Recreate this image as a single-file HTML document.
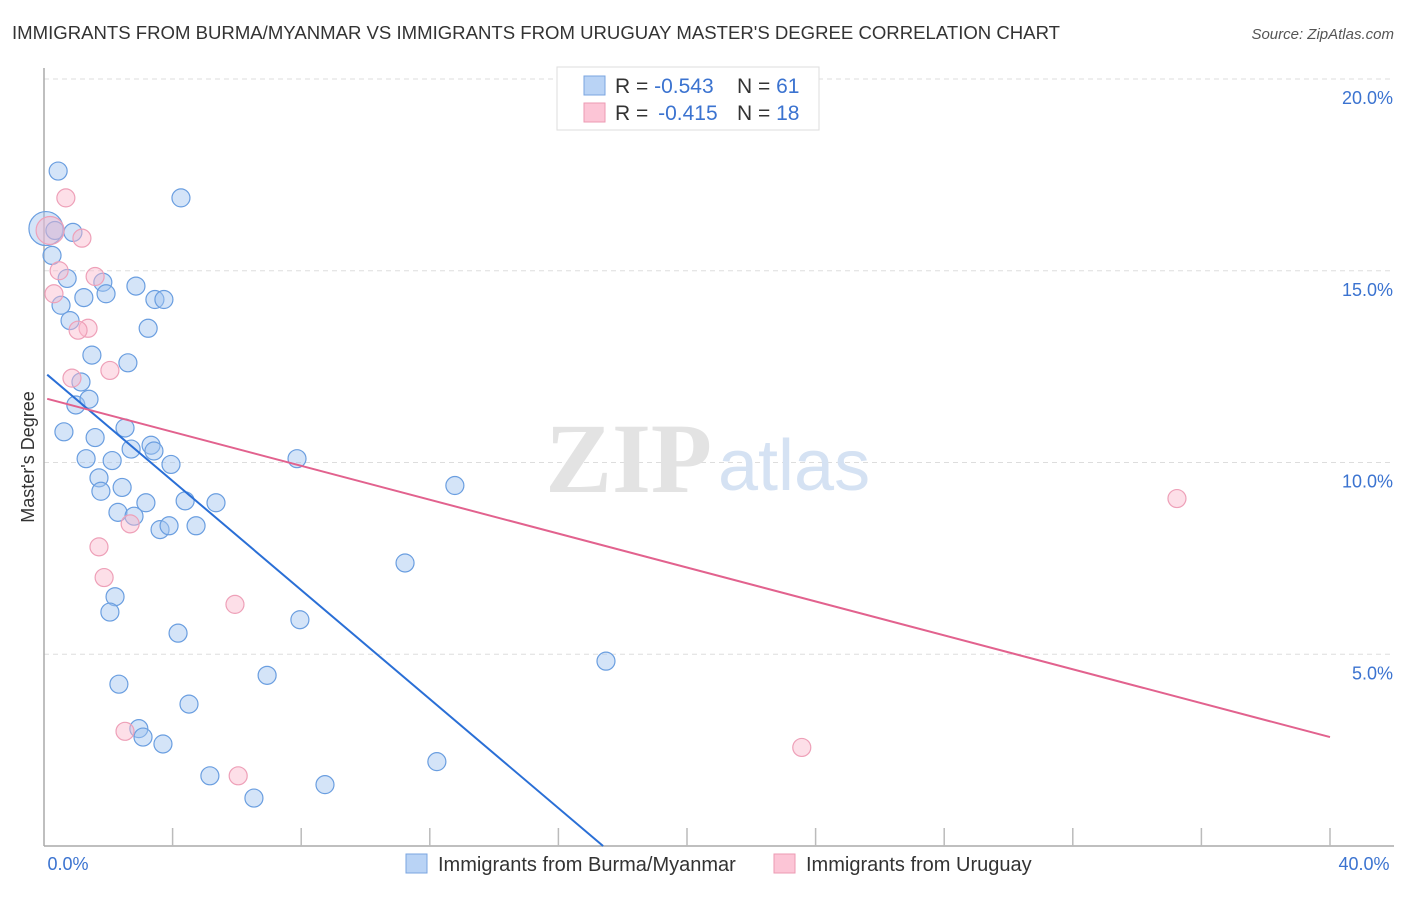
<!DOCTYPE html>
<html><head><meta charset="utf-8"><style>
body{margin:0;background:#fff;font-family:"Liberation Sans",sans-serif}
svg text{font-family:"Liberation Sans",sans-serif}
</style></head><body>
<svg id="chart" width="1406" height="892" xmlns="http://www.w3.org/2000/svg">
<text x="12" y="39" font-size="18.5" fill="#333" textLength="1048" lengthAdjust="spacingAndGlyphs">IMMIGRANTS FROM BURMA/MYANMAR VS IMMIGRANTS FROM URUGUAY MASTER'S DEGREE CORRELATION CHART</text>
<text x="1394" y="39" font-size="15" fill="#555" font-style="italic" text-anchor="end">Source: ZipAtlas.com</text>
<g id="grid"></g>
<text x="712" y="492" font-size="100" fill="#e3e3e3" style="font-family:'Liberation Serif',serif;font-weight:bold" text-anchor="end">ZIP</text>
<text x="718" y="490" font-size="72" fill="#d5e2f3">atlas</text>
<line x1="44" y1="68" x2="44" y2="846" stroke="#aaa" stroke-width="1.5"/>
<line x1="44" y1="846" x2="1394" y2="846" stroke="#aaa" stroke-width="1.5"/>
<g id="xticks"></g>
<g id="ylabels"></g>
<text x="68" y="870" font-size="18" fill="#3b73d0" text-anchor="middle">0.0%</text>
<text x="1364" y="870" font-size="18" fill="#3b73d0" text-anchor="middle">40.0%</text>
<text transform="translate(34,457) rotate(-90)" font-size="18" fill="#333" text-anchor="middle">Master's Degree</text>
<g id="points"></g>
<g id="trends"></g>
<g>
<rect x="557" y="67" width="262" height="63" fill="#fff" stroke="#ddd"/>
<rect x="584" y="76" width="21" height="19" fill="#b9d3f5" stroke="#7aa5e0"/>
<rect x="584" y="103" width="21" height="19" fill="#fcc5d6" stroke="#ec9ab3"/>
<text x="615" y="93" font-size="21" fill="#333">R = <tspan fill="#3b73d0">-0.543</tspan><tspan x="737">N = </tspan><tspan fill="#3b73d0">61</tspan></text>
<text x="615" y="120" font-size="21" fill="#333">R = <tspan fill="#3b73d0" dx="4">-0.415</tspan><tspan x="737">N = </tspan><tspan fill="#3b73d0">18</tspan></text>
</g>
<g>
<rect x="406" y="854" width="21" height="19" fill="#b9d3f5" stroke="#7aa5e0"/>
<text x="438" y="871" font-size="20" fill="#333">Immigrants from Burma/Myanmar</text>
<rect x="774" y="854" width="21" height="19" fill="#fcc5d6" stroke="#ec9ab3"/>
<text x="806" y="871" font-size="20" fill="#333">Immigrants from Uruguay</text>
</g>
</svg>
<script>
const yTicks=[5,10,15,20];
const yTickLabels=["5.0%","10.0%","15.0%","20.0%"];
const xTicks=[4,8,12,16,20,24,28,32,36,40];
const blueX=[0.44,4.26,0.06,0.34,0.9,0.25,0.72,1.83,1.24,0.53,1.93,2.86,3.45,3.73,3.24,0.81,1.49,2.61,1.15,0.99,1.4,0.62,1.59,2.52,1.31,2.12,3.33,2.71,3.42,3.95,7.87,12.78,1.71,1.77,2.43,3.17,4.39,5.35,2.3,2.8,3.61,3.89,4.73,11.23,2.21,2.05,4.17,7.96,17.48,2.33,6.94,4.51,2.95,3.08,3.7,5.16,12.22,6.53,8.74];
const blueY=[17.6,16.9,16.1,16.05,16.0,15.4,14.8,14.7,14.3,14.1,14.4,14.6,14.25,14.25,13.5,13.7,12.8,12.6,12.1,11.5,11.65,10.8,10.65,10.9,10.1,10.05,10.45,10.35,10.3,9.95,10.1,9.4,9.6,9.25,9.35,8.95,9.0,8.95,8.7,8.6,8.25,8.35,8.35,7.38,6.5,6.1,5.55,5.9,4.82,4.22,4.45,3.7,3.06,2.84,2.66,1.83,2.2,1.25,1.6];
const blueR=[9,9,17,9,9,9,9,9,9,9,9,9,9,9,9,9,9,9,9,9,9,9,9,9,9,9,9,9,9,9,9,9,9,9,9,9,9,9,9,9,9,9,9,9,9,9,9,9,9,9,9,9,9,9,9,9,9,9,9];
const pinkX=[0.68,0.19,1.18,0.47,1.59,0.31,1.37,1.06,0.87,2.05,2.68,1.71,1.87,5.94,2.52,6.04,23.57,35.24];
const pinkY=[16.9,16.05,15.85,15.0,14.85,14.4,13.5,13.45,12.2,12.4,8.4,7.8,7.0,6.3,2.99,1.83,2.57,9.06];
const pinkR=[9,14,9,9,9,9,9,9,9,9,9,9,9,9,9,9,9,9];
const blueTrend=[[0.1,12.29],[17.39,0]];
const pinkTrend=[[0.1,11.66],[40,2.84]];
const X=v=>44+v*32.15, Y=v=>846-v*38.35;
const NS="http://www.w3.org/2000/svg";
function mk(t,a,p){const e=document.createElementNS(NS,t);for(const k in a)e.setAttribute(k,a[k]);p.appendChild(e);return e;}
const grid=document.getElementById('grid');
yTicks.forEach((t,i)=>{
 const l=mk('line',{x1:44,x2:1394,y1:Y(t),y2:Y(t),stroke:'#ddd','stroke-dasharray':'5,4'},grid);
 
 
 const tx=mk('text',{x:1393,y:Y(t)+25,'font-size':18,fill:'#3b73d0','text-anchor':'end'},document.getElementById('ylabels'));
 tx.textContent=yTickLabels[i];
 
 
});
const tl=mk('line',{x1:44,x2:1394,y1:79,y2:79,stroke:'#ddd','stroke-dasharray':'5,4'},grid);


xTicks.forEach(t=>{
 const l=mk('line',{x1:X(t),x2:X(t),y1:828,y2:846,stroke:'#bbb','stroke-width':1.5},document.getElementById('xticks'));
 
 
});
const pts=document.getElementById('points');
blueX.forEach((x,i)=>{
 const c=mk('circle',{cx:X(x),cy:Y(blueY[i]),r:blueR[i],fill:'rgba(160,195,240,0.45)',stroke:'#6a9ee0','stroke-width':1.2},pts);
 
 
});
pinkX.forEach((x,i)=>{
 const c=mk('circle',{cx:X(x),cy:Y(pinkY[i]),r:pinkR[i],fill:'rgba(250,185,205,0.45)',stroke:'#eea0b8','stroke-width':1.2},pts);
 
 
});
const tr=document.getElementById('trends');
const bl=mk('line',{x1:X(blueTrend[0][0]),y1:Y(blueTrend[0][1]),x2:X(blueTrend[1][0]),y2:Y(blueTrend[1][1]),stroke:'#2a6fd6','stroke-width':2},tr);


const pl=mk('line',{x1:X(pinkTrend[0][0]),y1:Y(pinkTrend[0][1]),x2:X(pinkTrend[1][0]),y2:Y(pinkTrend[1][1]),stroke:'#e2628e','stroke-width':2},tr);


</script>
</body></html>
